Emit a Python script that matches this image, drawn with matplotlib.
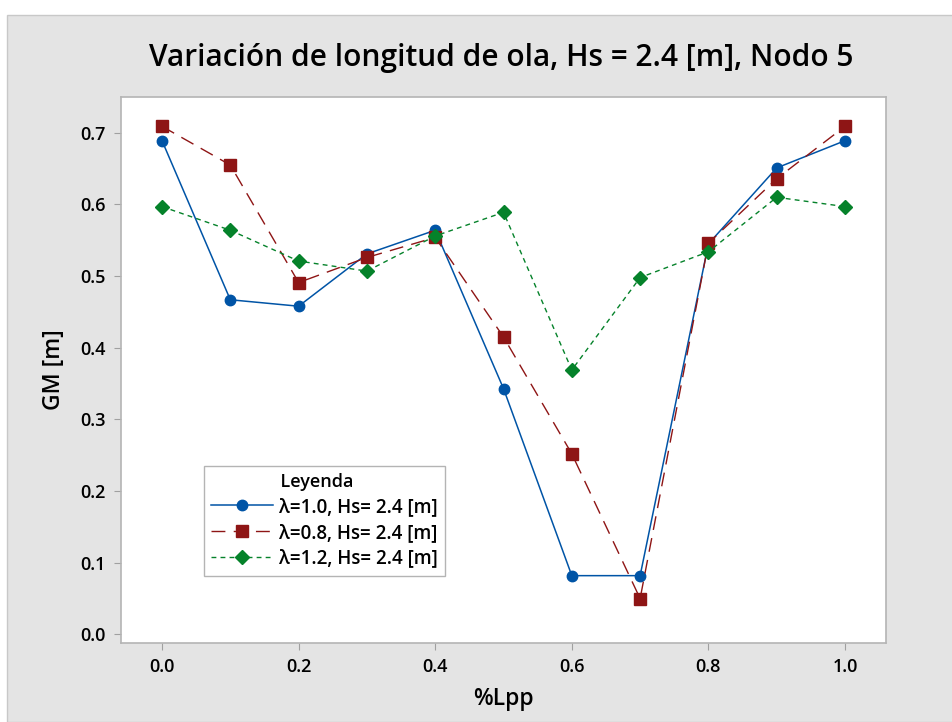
import matplotlib.pyplot as plt
from matplotlib.patches import Rectangle

plt.rcParams['font.family'] = ['Open Sans', 'DejaVu Sans']

# data
lpp = [0.0, 0.1, 0.2, 0.3, 0.4, 0.5, 0.6, 0.7, 0.8, 0.9, 1.0]
gm_l10 = [0.689, 0.467, 0.458, 0.531, 0.564, 0.343, 0.082, 0.082, 0.545, 0.651, 0.689]
gm_l08 = [0.709, 0.655, 0.491, 0.526, 0.554, 0.415, 0.252, 0.050, 0.546, 0.636, 0.709]
gm_l12 = [0.597, 0.564, 0.521, 0.507, 0.556, 0.589, 0.369, 0.498, 0.534, 0.610, 0.597]
labels = ['λ=1.0, Hs= 2.4 [m]', 'λ=0.8, Hs= 2.4 [m]', 'λ=1.2, Hs= 2.4 [m]']
xticks = [0.0, 0.2, 0.4, 0.6, 0.8, 1.0]
yticks = [0.0, 0.1, 0.2, 0.3, 0.4, 0.5, 0.6, 0.7]

fig = plt.figure(figsize=(9.53, 7.22), dpi=100, facecolor='white')
# grey panel behind the plot (Minitab style)
fig.patches.append(Rectangle((7 / 953, 0), 1, 1 - 15 / 722, transform=fig.transFigure,
                             facecolor='#e4e4e4', edgecolor='#c8c8c8', linewidth=1, zorder=-1))

ax = fig.add_axes([0.127, 0.1094, 0.8027, 0.7563])
ax.set_facecolor('white')

ax.plot(lpp, gm_l10, color='#0054a6', linestyle='-', linewidth=1.1,
        marker='o', markersize=7.5, label=labels[0])
ax.plot(lpp, gm_l08, color='#8e1515', linestyle=(0, (10, 6)), linewidth=1.0,
        marker='s', markersize=8.5, label=labels[1])
ax.plot(lpp, gm_l12, color='#05822a', linestyle=(0, (3.5, 3)), linewidth=1.0,
        marker='D', markersize=7.5, label=labels[2])

ax.set_xlim(-0.06, 1.06)
ax.set_ylim(-0.012, 0.75)
ax.set_xticks(xticks)
ax.set_yticks(yticks)
ax.set_xticklabels(['%.1f' % v for v in xticks], fontsize=13, fontweight='semibold')
ax.set_yticklabels(['%.1f' % v for v in yticks], fontsize=13, fontweight='semibold')
ax.tick_params(length=5, color='#a0a0a0', pad=6)
for s in ax.spines.values():
    s.set_color('#b4b4b4')
    s.set_linewidth(1.2)

ax.set_xlabel('%Lpp', fontsize=16.5, fontweight='semibold', labelpad=8)
ax.set_ylabel('GM [m]', fontsize=16.5, fontweight='semibold', labelpad=10)

fig.text(0.526, 1 - 58 / 722, 'Variación de longitud de ola, Hs = 2.4 [m], Nodo 5',
         ha='center', va='center', fontsize=21.5, fontweight='semibold')

leg = ax.legend(loc='lower left', bbox_to_anchor=(0.096, 0.106),
                title=' ' * 15 + 'Leyenda', alignment='left',
                prop={'size': 13.5, 'weight': 'semibold'},
                title_fontproperties={'size': 13, 'weight': 'semibold'},
                fancybox=False, framealpha=1, edgecolor='#b4b4b4',
                handlelength=3.3, handletextpad=0.3, borderpad=0.4, labelspacing=0.3)
leg.get_frame().set_linewidth(1.0)

plt.savefig('out.png', dpi=100)
